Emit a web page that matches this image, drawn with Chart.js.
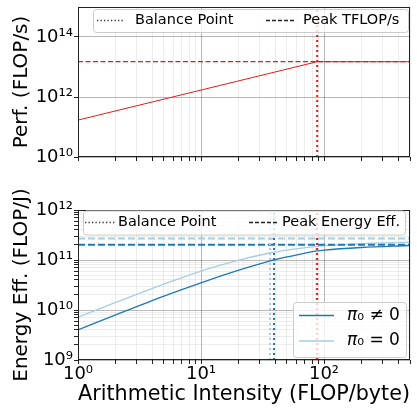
<!DOCTYPE html>
<html><head><meta charset="utf-8">
<script src="https://cdn.jsdelivr.net/npm/chart.js@4/dist/chart.umd.min.js"></script>
<style>
html,body{margin:0;padding:0;background:#fff;width:417px;height:408px;overflow:hidden}
.box{position:absolute;left:0;width:417px}
</style></head><body>
<div class="box" style="top:0;height:185px"><canvas id="c1"></canvas></div>
<div class="box" style="top:185px;height:223px"><canvas id="c2"></canvas></div>
<script>
// ---------- data ----------
const xMin = 1, xMax = 500;
const xMajorTicks = [1, 10, 100];
const xMajorLabels = ['10⁰', '10¹', '10²'];

const perfMajorTicks = [1e10, 1e12, 1e14];
const perfMajorLabels = ['10¹⁰', '10¹²', '10¹⁴'];
const perfMin = 1e10, perfMax = 1e15;

const effMajorTicks = [1e9, 1e10, 1e11, 1e12];
const effMajorLabels = ['10⁹', '10¹⁰', '10¹¹', '10¹²'];
const effMin = 1e9, effMax = 1e12;

const rooflineX = [1, 88, 500];
const rooflinePerf = [1.7e11, 1.5e13, 1.5e13];
const peakPerf = 1.5e13;
const perfBalance = 88;

const intensity = [1, 2, 5, 10, 20, 36, 39, 50, 88, 100, 200, 500];
const effPi0NonZero = [4.0e9, 7.9e9, 1.9e10, 3.5e10, 6.2e10, 9.5e10, 1.0e11, 1.15e11, 1.52e11, 1.58e11, 1.78e11, 1.95e11];
const effPi0Zero    = [7.2e9, 1.4e10, 3.3e10, 6.0e10, 9.8e10, 1.38e11, 1.43e11, 1.58e11, 1.88e11, 1.92e11, 2.12e11, 2.28e11];
const peakEffPi0NonZero = 2.03e11;
const peakEffPi0Zero = 2.7e11;
const balancePi0NonZero = 39.2;
const balancePi0Zero = 36.4;
const balancePerfPi0NonZero = 88;
const balancePerfPi0Zero = 87;

const perfLegendLabels = ['Balance Point', 'Peak TFLOP/s'];
const effLegendLabels = ['Balance Point', 'Peak Energy Eff.'];
const seriesLabels = ['π₀ ≠ 0', 'π₀ = 0'];

const perfTitle = 'Perf. (FLOP/s)';
const effTitle = 'Energy Eff. (FLOP/J)';
const xTitle = 'Arithmetic Intensity (FLOP/byte)';

// ---------- styling ----------
const RED = '#e31a1c', LRED = '#fb9a99', BLUE = '#1f78b4', LBLUE = '#a6cee3';
const FONT = 'DejaVu Sans';
const MAJOR_GRID = 'rgba(0,0,0,0.28)', MINOR_GRID = 'rgba(0,0,0,0.07)';
Chart.defaults.color = '#000';
Chart.defaults.font.family = FONT;
Chart.defaults.animation = false;

function logTicks(lo, hi) {
  const out = [];
  for (let e = Math.floor(Math.log10(lo)); e <= Math.ceil(Math.log10(hi)); e++) {
    for (let m = 1; m <= 9; m++) {
      const v = m * Math.pow(10, e);
      if (v >= lo * 0.999 && v <= hi * 1.001) out.push(v);
    }
  }
  return out;
}
function isMajor(v) { const e = Math.log10(v); return Math.abs(e - Math.round(e)) < 1e-6; }
function labelFor(v, ticks, labels) {
  for (let i = 0; i < ticks.length; i++) if (Math.abs(v / ticks[i] - 1) < 1e-6) return labels[i];
  return '';
}
const pts = (xs, ys) => xs.map((x, i) => ({x, y: ys[i]}));
const hline = (y) => [{x: xMin, y}, {x: xMax, y}];
const vline = (x, lo, hi) => [{x, y: lo}, {x, y: hi}];

function ds(data, color, width, dash) {
  return {data, borderColor: color, backgroundColor: color, borderWidth: width,
          borderDash: dash || [], pointRadius: 0, showLine: true, fill: false, tension: 0};
}

// frame + legends plugin
const framePlugin = {
  id: 'frame',
  afterDatasetsDraw(chart, args, opts) {
    const ctx = chart.ctx, a = chart.chartArea;
    ctx.save();
    ctx.strokeStyle = '#222'; ctx.lineWidth = 1; ctx.setLineDash([]);
    const l = Math.floor(a.left) + 0.5, t = Math.floor(a.top) + 0.5;
    const r = Math.ceil(a.right) - 0.5, b = Math.ceil(a.bottom) - 0.5;
    ctx.strokeRect(l, t, r - l, b - t);
    (opts.legends || []).forEach(L => drawLegend(ctx, a, L));
    ctx.restore();
  }
};
function roundRect(ctx, x, y, w, h, r) {
  ctx.beginPath();
  ctx.moveTo(x + r, y); ctx.lineTo(x + w - r, y); ctx.quadraticCurveTo(x + w, y, x + w, y + r);
  ctx.lineTo(x + w, y + h - r); ctx.quadraticCurveTo(x + w, y + h, x + w - r, y + h);
  ctx.lineTo(x + r, y + h); ctx.quadraticCurveTo(x, y + h, x, y + h - r);
  ctx.lineTo(x, y + r); ctx.quadraticCurveTo(x, y, x + r, y); ctx.closePath();
}
function drawLegend(ctx, a, L) {
  const x = a.left + L.dx, y = a.top + L.dy;
  ctx.save();
  roundRect(ctx, x + 0.5, y + 0.5, L.w, L.h, 3);
  ctx.fillStyle = 'rgba(255,255,255,0.8)'; ctx.fill();
  ctx.strokeStyle = '#cccccc'; ctx.lineWidth = 1; ctx.setLineDash([]); ctx.stroke();
  L.items.forEach(it => {
    ctx.beginPath();
    ctx.strokeStyle = it.color; ctx.lineWidth = it.width; ctx.setLineDash(it.dash || []);
    ctx.moveTo(x + it.s0, y + it.cy); ctx.lineTo(x + it.s1, y + it.cy); ctx.stroke();
    ctx.setLineDash([]);
    ctx.fillStyle = '#000'; ctx.textBaseline = 'middle'; ctx.textAlign = 'left';
    let tx = x + it.tx;
    let text = it.label;
    if (text.startsWith('π')) {
      ctx.font = 'italic ' + L.size + 'px "' + FONT + '"';
      ctx.fillText('π', tx, y + it.cy);
      tx += ctx.measureText('π').width;
      text = text.slice(1);
    }
    ctx.font = L.size + 'px "' + FONT + '"';
    ctx.fillText(text, tx, y + it.cy);
  });
  ctx.restore();
}

function xScale(showLabels, height, withTitle) {
  return {
    type: 'logarithmic', min: xMin, max: xMax,
    afterBuildTicks: s => { s.ticks = logTicks(xMin, xMax).map(v => ({value: v})); },
    afterFit: s => { s.height = height; s.paddingLeft = 0; s.paddingRight = 0; },
    ticks: {autoSkip: false, maxRotation: 0, minRotation: 0, padding: 1,
            font: {size: 18, lineHeight: 1},
            callback: v => showLabels ? labelFor(v, xMajorTicks, xMajorLabels) : ''},
    grid: {color: c => (c.tick && isMajor(c.tick.value)) ? MAJOR_GRID : MINOR_GRID,
           lineWidth: 1, drawTicks: true, tickLength: 4, tickColor: '#222', tickWidth: 1},
    border: {display: false},
    title: {display: withTitle, text: xTitle, font: {size: 21, lineHeight: 1.2}, padding: {top: 0, bottom: 1}}
  };
}
function yScale(min, max, tickVals, majors, labels, title) {
  return {
    type: 'logarithmic', min, max,
    afterBuildTicks: s => { s.ticks = tickVals.map(v => ({value: v})); },
    afterFit: s => { s.width = 78; s.paddingTop = 0; s.paddingBottom = 0; },
    ticks: {autoSkip: false, padding: 1, font: {size: 18, lineHeight: 1},
            callback: v => labelFor(v, majors, labels)},
    grid: {color: c => (c.tick && isMajor(c.tick.value)) ? MAJOR_GRID : MINOR_GRID,
           lineWidth: 1, drawTicks: true, tickLength: 4, tickColor: '#222', tickWidth: 1},
    border: {display: false},
    title: {display: true, text: title, font: {size: 20, lineHeight: 1.2}, padding: {top: 10, bottom: 0}}
  };
}

// ---------- top chart: performance ----------
new Chart(document.getElementById('c1'), {
  type: 'scatter',
  data: {datasets: [
    Object.assign(ds(vline(perfBalance, perfMin, perfMax), RED, 2, [2, 3]), {order: 0}),
    Object.assign(ds(pts(rooflineX, rooflinePerf), RED, 1), {order: 1}),
    Object.assign(ds(hline(peakPerf), RED, 1.3, [5, 2.5]), {order: 2})
  ]},
  options: {
    responsive: true, maintainAspectRatio: false,
    layout: {padding: {top: 7, right: 7, left: 0, bottom: 0}},
    plugins: {legend: {display: false}, tooltip: {enabled: false},
      frame: {legends: [{
        dx: 15, dy: 2, w: 315, h: 23, size: 14.5,
        items: [
          {label: perfLegendLabels[0], color: '#333', width: 1.3, dash: [1.3, 2.2], s0: 4, s1: 30, tx: 42, cy: 11.5},
          {label: perfLegendLabels[1], color: '#222', width: 1.3, dash: [4, 2], s0: 173, s1: 201, tx: 210, cy: 11.5}
        ]}]}
    },
    scales: {
      x: xScale(false, 28, false),
      y: yScale(perfMin, perfMax, perfMajorTicks, perfMajorTicks, perfMajorLabels, perfTitle)
    }
  },
  plugins: [framePlugin]
});

// ---------- bottom chart: energy efficiency ----------
new Chart(document.getElementById('c2'), {
  type: 'scatter',
  data: {datasets: [
    Object.assign(ds(vline(balancePerfPi0NonZero, effMin, effMax), RED, 2, [2, 3]), {order: 0}),
    Object.assign(ds(vline(balancePerfPi0Zero, effMin, effMax), LRED, 2, [2, 3]), {order: 1}),
    Object.assign(ds(vline(balancePi0NonZero, effMin, effMax), BLUE, 2, [2, 3]), {order: 2}),
    Object.assign(ds(vline(balancePi0Zero, effMin, effMax), LBLUE, 2, [2, 3]), {order: 3}),
    Object.assign(ds(hline(peakEffPi0NonZero), BLUE, 2, [7, 3]), {order: 4}),
    Object.assign(ds(hline(peakEffPi0Zero), LBLUE, 2, [7, 3]), {order: 5}),
    Object.assign(ds(pts(intensity, effPi0NonZero), BLUE, 1.3), {order: 6, cubicInterpolationMode: 'monotone'}),
    Object.assign(ds(pts(intensity, effPi0Zero), LBLUE, 1.3), {order: 7, cubicInterpolationMode: 'monotone'})
  ]},
  options: {
    responsive: true, maintainAspectRatio: false,
    layout: {padding: {top: 25, right: 7, left: 0, bottom: 0}},
    plugins: {legend: {display: false}, tooltip: {enabled: false},
      frame: {legends: [
        {dx: 5, dy: 0.5, w: 322, h: 24, size: 14.5,
         items: [
          {label: effLegendLabels[0], color: '#333', width: 1.3, dash: [1.3, 2.2], s0: 2, s1: 32, tx: 35, cy: 12},
          {label: effLegendLabels[1], color: '#222', width: 1.3, dash: [4, 2], s0: 166, s1: 194, tx: 199, cy: 12}
         ]},
        {dx: 215, dy: 92, w: 113, h: 55, size: 17,
         items: [
          {label: seriesLabels[0], color: BLUE, width: 1.5, s0: 6, s1: 41, tx: 54, cy: 13.5},
          {label: seriesLabels[1], color: LBLUE, width: 1.5, s0: 6, s1: 41, tx: 54, cy: 39}
         ]}
      ]}
    },
    scales: {
      x: xScale(true, 48, true),
      y: yScale(effMin, effMax, logTicks(effMin, effMax), effMajorTicks, effMajorLabels, effTitle)
    }
  },
  plugins: [framePlugin]
});
</script>
</body></html>
